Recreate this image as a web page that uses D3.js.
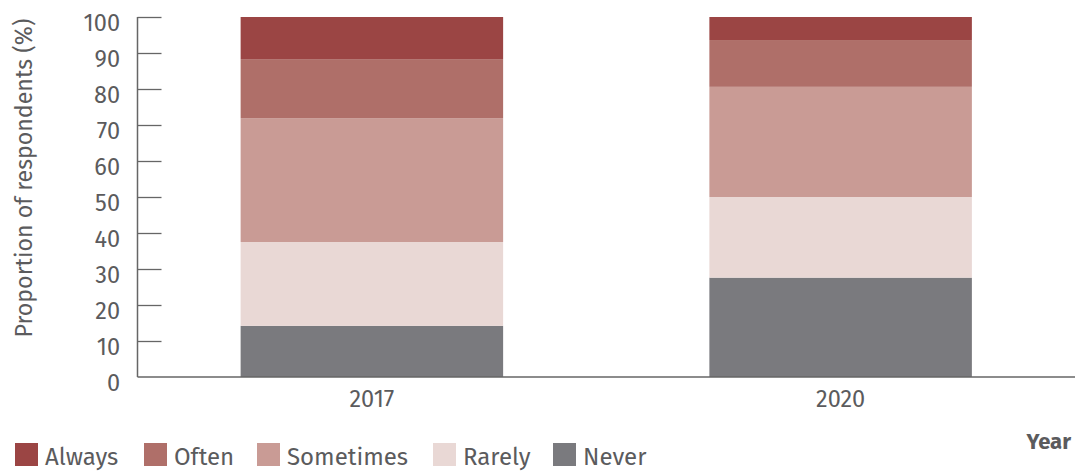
<!DOCTYPE html>
<html>
<head>
<meta charset="utf-8">
<script src="https://cdn.jsdelivr.net/npm/d3@7"></script>
<style>
  html, body { margin: 0; padding: 0; background: #fff; }
  svg { display: block; }
  text { font-family: "Fira Sans", Roboto, "Noto Sans", sans-serif; fill: #5b5b5d; }
</style>
</head>
<body>
<svg id="chart" width="1077" height="471"></svg>
<script>
const years = ["2017", "2020"];
const seriesNames = ["Never", "Rarely", "Sometimes", "Often", "Always"];
const never = [14.2, 27.6];
const rarely = [23.3, 22.4];
const sometimes = [34.4, 30.6];
const often = [16.4, 13.0];
const always = [11.7, 6.4];
const yTicks = [0, 10, 20, 30, 40, 50, 60, 70, 80, 90, 100];
const legendOrder = ["Always", "Often", "Sometimes", "Rarely", "Never"];
const colors = {
  Always: "#9b4544",
  Often: "#af6f69",
  Sometimes: "#c99b95",
  Rarely: "#e9d8d5",
  Never: "#7a7a7e"
};

const seriesValues = { Never: never, Rarely: rarely, Sometimes: sometimes, Often: often, Always: always };
const table = years.map((yr, i) => {
  const row = { year: yr };
  seriesNames.forEach(s => row[s] = seriesValues[s][i]);
  return row;
});

const svg = d3.select("#chart");
const mLeft = 137.5, mRight = 1075, mTop = 17, mBottom = 377;

const x = d3.scaleBand().domain(years).range([mLeft, mRight]).paddingInner(0.44).paddingOuter(0.22);
const y = d3.scaleLinear().domain([0, 100]).range([mBottom, mTop]);

const stacked = d3.stack().keys(seriesNames)(table);

svg.append("g").selectAll("g").data(stacked).join("g")
  .attr("fill", d => colors[d.key])
  .selectAll("rect").data(d => d).join("rect")
  .attr("x", d => x(d.data.year))
  .attr("width", x.bandwidth())
  .attr("y", d => y(d[1]))
  .attr("height", d => y(d[0]) - y(d[1]));

// Y axis
const yAxis = d3.axisRight(y).tickValues(yTicks).tickSize(24).tickFormat("");
const gy = svg.append("g").attr("transform", `translate(${mLeft},0)`).call(yAxis);
gy.select(".domain").remove();
gy.selectAll(".tick line").attr("stroke", "#666").attr("stroke-width", 1.3);
gy.selectAll(".tick").filter(d => d === 0).remove();
svg.append("line").attr("x1", mLeft).attr("x2", mLeft).attr("y1", y(100)).attr("y2", y(0))
  .attr("stroke", "#666").attr("stroke-width", 1.5);

svg.append("g").selectAll("text").data(yTicks).join("text")
  .attr("x", 120).attr("y", d => y(d) + 6)
  .attr("dy", "0.35em")
  .attr("text-anchor", "end")
  .attr("font-size", 23.5)
  .text(d => d);

// X axis
svg.append("line").attr("x1", mLeft).attr("x2", mRight).attr("y1", mBottom).attr("y2", mBottom)
  .attr("stroke", "#666").attr("stroke-width", 1.5);
const xAxis = d3.axisBottom(x).tickSize(0).tickPadding(0);
const gx = svg.append("g").attr("transform", `translate(0,${mBottom})`).call(xAxis);
gx.select(".domain").remove();
gx.selectAll("text").attr("y", 22).attr("dy", "0.35em").attr("font-size", 23.5)
  .style("font-family", '"Fira Sans", Roboto, "Noto Sans", sans-serif').style("fill", "#5b5b5d");

// Axis titles
svg.append("text")
  .attr("transform", `translate(32,${(13 + 343) / 2}) rotate(-90)`)
  .attr("text-anchor", "middle")
  .attr("font-size", 23.2)
  .text("Proportion of respondents (%)");

svg.append("text")
  .attr("x", 1071).attr("y", 449)
  .attr("text-anchor", "end")
  .attr("font-size", 22)
  .attr("font-weight", "bold")
  .text("Year");

// Legend
const legendX = [15, 144, 257, 433, 553];
const lg = svg.append("g").selectAll("g").data(legendOrder).join("g")
  .attr("transform", (d, i) => `translate(${legendX[i]},443)`);
lg.append("rect").attr("width", 23).attr("height", 23).attr("fill", d => colors[d]);
lg.append("text").attr("x", 30).attr("y", 21.5).attr("font-size", 24).text(d => d);
</script>
</body>
</html>
